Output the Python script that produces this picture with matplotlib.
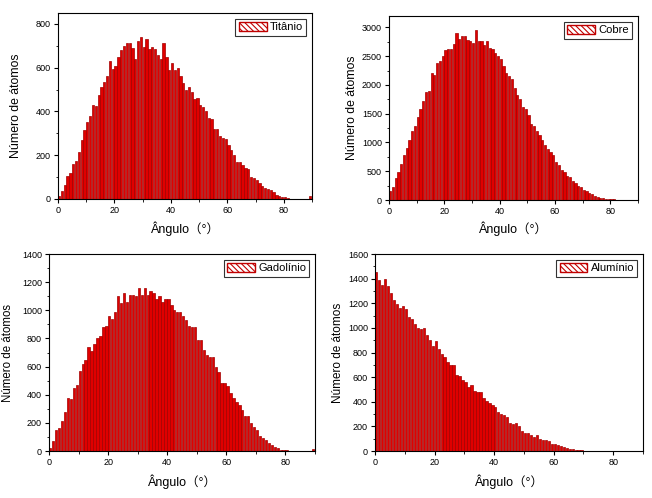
import matplotlib
matplotlib.use("Agg")
import matplotlib.pyplot as plt
from matplotlib.patches import Patch
from matplotlib.ticker import MultipleLocator
import numpy as np

plt.rcParams['font.family'] = ['Liberation Sans', 'Noto Sans CJK SC', 'DejaVu Sans']
plt.rcParams['hatch.linewidth'] = 0.8

bin_edges_start = list(range(0, 90))  # 1-degree bins, 0..89

titanio = [12, 35, 65, 105, 120, 160, 175, 215, 270, 315,
           350, 380, 430, 425, 475, 510, 535, 560, 632, 595,
           610, 650, 680, 700, 715, 715, 690, 640, 720, 740,
           695, 730, 685, 695, 685, 660, 640, 715, 650, 590,
           620, 590, 600, 560, 530, 500, 510, 490, 455, 460,
           430, 420, 400, 370, 365, 320, 320, 290, 280, 275,
           245, 225, 200, 170, 170, 155, 140, 135, 100, 95,
           85, 75, 60, 50, 45, 40, 30, 20, 15, 10,
           8, 5, 2, 0, 0, 0, 0, 0, 0, 15]

cobre = [150, 230, 380, 490, 630, 780, 900, 1050, 1200, 1280,
         1450, 1580, 1720, 1880, 1900, 2200, 2180, 2380, 2420, 2500,
         2600, 2630, 2620, 2720, 2900, 2800, 2850, 2850, 2790, 2760,
         2730, 2950, 2760, 2760, 2700, 2760, 2640, 2620, 2560, 2500,
         2450, 2330, 2200, 2150, 2100, 1950, 1830, 1750, 1620, 1580,
         1470, 1320, 1290, 1200, 1130, 1050, 960, 880, 830, 780,
         660, 600, 530, 480, 420, 400, 330, 300, 250, 220,
         180, 160, 120, 100, 70, 60, 40, 30, 20, 15,
         10, 10, 8, 8, 5, 0, 0, 0, 0, 0]

gadolinio = [20, 70, 150, 160, 210, 280, 380, 370, 450, 470,
             570, 620, 650, 740, 710, 760, 800, 820, 880, 890,
             960, 940, 990, 1100, 1050, 1120, 1060, 1110, 1110, 1100,
             1160, 1110, 1160, 1110, 1140, 1120, 1080, 1100, 1060, 1080,
             1080, 1040, 1000, 990, 990, 960, 930, 890, 880, 880,
             790, 790, 720, 680, 670, 670, 600, 560, 480, 480,
             460, 410, 380, 350, 330, 290, 250, 250, 200, 170,
             150, 110, 90, 80, 60, 40, 30, 20, 10, 8,
             5, 0, 0, 0, 0, 0, 0, 0, 0, 15]

aluminio = [1450, 1390, 1350, 1400, 1340, 1280, 1230, 1190, 1160, 1180,
            1150, 1090, 1070, 1030, 1000, 990, 1000, 940, 900, 850,
            890, 830, 790, 760, 720, 700, 700, 620, 610, 580,
            560, 520, 540, 490, 480, 480, 430, 410, 390, 370,
            360, 320, 300, 290, 280, 230, 220, 230, 200, 160,
            150, 150, 130, 110, 130, 100, 90, 90, 80, 60,
            55, 50, 40, 35, 25, 20, 15, 10, 8, 5,
            0, 0, 0, 0, 0, 0, 0, 0, 0, 0,
            0, 0, 0, 0, 0, 0, 0, 0, 0, 0]

labels = ["Titânio", "Cobre", "Gadolínio", "Alumínio"]
series = [titanio, cobre, gadolinio, aluminio]
ylims = [850, 3200, 1400, 1600]
ymajor = [200, 500, 200, 200]
yminor = [100, 250, 100, 100]

W, H = 652, 498
# axes boxes in pixel coords: (left, top, right, bottom)
boxes = [(58, 13, 312, 199),
         (389, 16, 638, 200),
         (49, 254, 315, 451),
         (375, 254, 643, 451)]
ylabel_x = [22, 358, 14, 344]     # right edge of rotated label
xlabel_y = [221, 222, 474, 474]   # top of x label
ylabel_fs = [8.8, 8.8, 8.3, 8.5]

fig = plt.figure(figsize=(W / 100, H / 100), dpi=100)

for i in range(4):
    l, t, r, b = boxes[i]
    ax = fig.add_axes([l / W, 1 - b / H, (r - l) / W, (b - t) / H])
    ax.bar(bin_edges_start, series[i], width=0.8, align='edge',
           color='#e00000', edgecolor='#a00000', linewidth=0.5)
    ax.set_xlim(0, 90)
    ax.set_ylim(0, ylims[i])
    ax.xaxis.set_major_locator(MultipleLocator(20))
    ax.xaxis.set_minor_locator(MultipleLocator(10))
    ax.yaxis.set_major_locator(MultipleLocator(ymajor[i]))
    ax.yaxis.set_minor_locator(MultipleLocator(yminor[i]))
    ax.set_xticks([0, 20, 40, 60, 80])
    ax.tick_params(which='major', direction='out', length=3, width=0.8,
                   labelsize=6.5, pad=2)
    ax.tick_params(which='minor', direction='out', length=1.8, width=0.6)
    for sp in ax.spines.values():
        sp.set_linewidth(0.8)
    ax.set_ylabel("Número de átomos", fontsize=ylabel_fs[i])
    ax.yaxis.set_label_coords((ylabel_x[i] - l) / (r - l), 0.5)
    ax.set_xlabel("Ângulo（°）", fontsize=9)
    ax.xaxis.set_label_coords(0.5, -(xlabel_y[i] - b) / (b - t))
    handle = Patch(facecolor='white', edgecolor='#c00000', hatch='\\\\\\\\\\\\',
                   linewidth=1.0)
    leg = ax.legend([handle], [labels[i]], loc='upper right', fontsize=8,
                    frameon=True, fancybox=False, borderpad=0.3,
                    handlelength=2.5, handleheight=0.9, handletextpad=0.3,
                    borderaxespad=0.5)
    leg.get_frame().set_edgecolor('black')
    leg.get_frame().set_linewidth(0.8)

fig.savefig("out.png", dpi=100)
